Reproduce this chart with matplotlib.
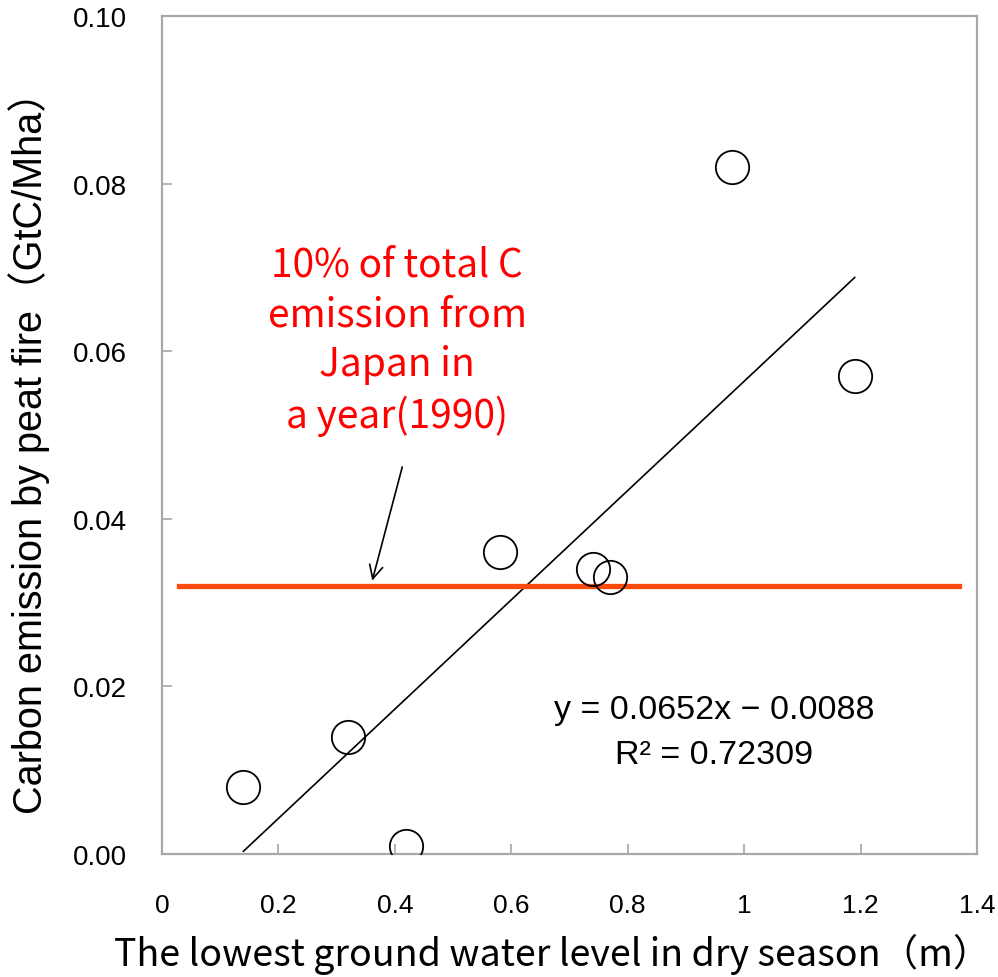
import numpy as np
import matplotlib.pyplot as plt

# data
water_level = [0.14, 0.32, 0.42, 0.58, 0.74, 0.77, 0.98, 1.19]
emission = [0.008, 0.014, 0.001, 0.036, 0.034, 0.033, 0.082, 0.057]
slope, intercept = 0.0652, -0.0088
fit_x = [0.14, 1.19]
japan_level = 0.032
japan_x = [0.03, 1.37]
x_ticks = [0, 0.2, 0.4, 0.6, 0.8, 1, 1.2, 1.4]
x_tick_labels = ['0', '0.2', '0.4', '0.6', '0.8', '1', '1.2', '1.4']
y_ticks = [0.00, 0.02, 0.04, 0.06, 0.08, 0.10]

cjk = ['Noto Sans CJK JP', 'DejaVu Sans']

fig = plt.figure(figsize=(9.98, 9.78), dpi=100)
ax = fig.add_axes([0.1623, 0.1258, 0.8166, 0.8569])

# regression line
fx = np.array(fit_x)
ax.plot(fx, slope * fx + intercept, color='black', lw=1.2, zorder=2)

# reference line (10% of Japan emission)
ax.plot(japan_x, [japan_level, japan_level], color='#FF4A0A', lw=3.8, zorder=3)

# observations
ax.plot(water_level, emission, 'o', ms=24, mfc='none', mec='black', mew=1.3, zorder=4)

ax.set_xlim(0, 1.4)
ax.set_ylim(0, 0.10)
ax.set_xticks(x_ticks)
ax.set_xticklabels(x_tick_labels)
ax.set_yticks(y_ticks)
ax.set_yticklabels(['%.2f' % v for v in y_ticks])

for s in ax.spines.values():
    s.set_color('#A8A8A8')
    s.set_linewidth(1.6)
ax.tick_params(direction='in', length=7, width=1.2, color='#A8A8A8')
ax.tick_params(axis='x', pad=28)
ax.tick_params(axis='y', pad=25)
for lab in ax.get_yticklabels():
    lab.set_family('Liberation Sans')
    lab.set_fontsize(20)
for lab in ax.get_xticklabels():
    lab.set_family('Liberation Sans')
    lab.set_fontsize(19)

ax.set_xlabel('The lowest ground water level in dry season（m）', fontsize=27, family=cjk)
ax.xaxis.set_label_coords(0.479, -0.094)
ax.set_ylabel('Carbon emission by peat fire（GtC/Mha）', fontsize=28.5,
              family=['Liberation Sans', 'Noto Sans CJK JP'])
ax.yaxis.set_label_coords(-0.137, 0.492)

ax.text(0.404, 0.0613, '10% of total C\nemission from\nJapan in\na year(1990)', color='red',
        fontsize=28, ha='center', va='center', linespacing=1.32, family=cjk)
ax.annotate('', xy=(0.36, 0.0323), xytext=(0.414, 0.0465),
            arrowprops=dict(arrowstyle='->', color='black', lw=1.2, mutation_scale=24))

ax.text(0.948, 0.01456, 'y = 0.0652x − 0.0088\nR² = 0.72309', fontsize=24.5, ha='center',
        va='center', linespacing=1.55, family='Liberation Sans')

fig.savefig('out.png', dpi=100)
